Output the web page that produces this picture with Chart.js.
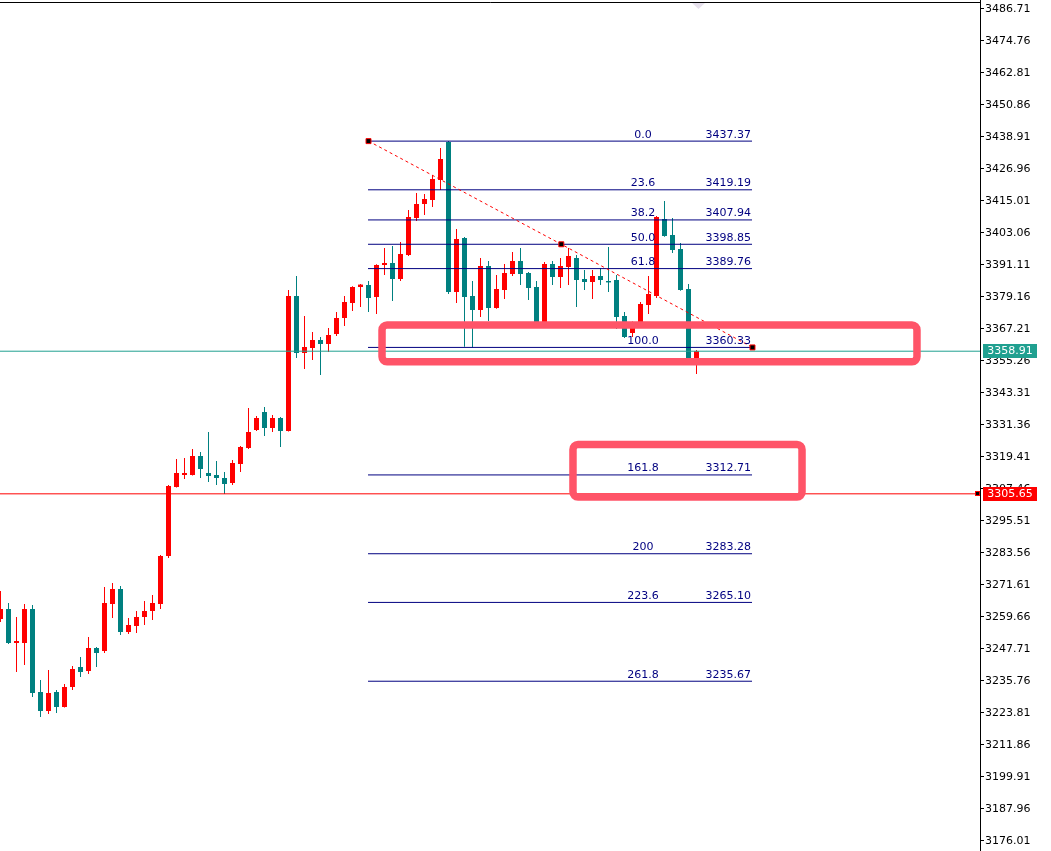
<!DOCTYPE html>
<html><head><meta charset="utf-8">
<script src="https://cdn.jsdelivr.net/npm/chart.js@4.4.1/dist/chart.umd.min.js"></script>
<style>html,body{margin:0;padding:0;background:#fff;overflow:hidden}</style>
</head><body>
<canvas id="c" width="1051" height="851"></canvas>
<script>
const candleOpen=[3258.91,3262.65,3249.95,3249.95,3262.65,3231.65,3224.55,3231.65,3226.05,3233.52,
3240.99,3239.49,3248.08,3246.96,3264.51,3270.11,3254.06,3256.30,3259.66,3261.90,
3264.51,3282.44,3308.20,3312.69,3312.69,3319.78,3313.43,3312.69,3311.57,3309.70,
3316.79,3322.77,3329.49,3336.21,3330.24,3333.97,3329.12,3379.53,3358.25,3360.11,
3363.10,3361.61,3365.34,3371.32,3376.92,3382.89,3383.64,3379.16,3391.11,3391.86,
3385.88,3394.84,3408.66,3413.89,3415.38,3422.85,3437.00,3381.03,3401.19,3379.53,
3374.30,3390.73,3375.05,3381.77,3387.75,3392.60,3388.12,3382.89,3369.82,3391.48,
3386.63,3390.36,3393.72,3385.88,3384.76,3387.00,3385.13,3385.51,3372.06,3365.71,
3369.07,3376.17,3379.53,3408.29,3402.31,3397.08,3382.15,3356.01];
const candleHigh=[3269.37,3264.89,3259.66,3264.51,3264.14,3236.13,3239.87,3232.40,3234.64,3241.36,
3244.72,3252.19,3248.45,3270.86,3272.35,3271.23,3259.28,3261.90,3265.63,3267.87,
3282.81,3308.95,3318.66,3319.03,3322.40,3321.27,3328.74,3317.91,3313.81,3318.29,
3323.52,3337.71,3334.72,3338.08,3335.09,3334.35,3381.77,3387.00,3372.06,3366.09,
3364.22,3367.58,3373.56,3379.53,3383.20,3384.01,3385.13,3391.40,3397.46,3398.20,
3399.70,3411.65,3418.00,3417.62,3424.72,3434.80,3437.37,3404.55,3401.56,3385.13,
3393.72,3392.60,3387.37,3391.48,3395.96,3397.46,3388.49,3385.13,3392.23,3392.60,
3393.72,3397.46,3394.84,3389.24,3389.24,3389.99,3397.83,3387.37,3373.56,3370.00,
3377.29,3387.00,3409.41,3415.01,3408.66,3399.32,3384.01,3359.37];
const candleLow=[3257.79,3249.60,3239.12,3241.73,3229.78,3222.31,3223.43,3223.81,3225.90,3232.40,
3237.25,3238.37,3240.99,3246.21,3259.28,3252.94,3253.31,3253.68,3256.67,3258.54,
3262.65,3281.69,3308.00,3311.19,3312.50,3311.57,3310.07,3308.95,3305.59,3308.95,
3313.81,3322.40,3329.12,3327.25,3328.74,3323.14,3328.90,3356.38,3352.27,3355.63,
3350.03,3358.62,3364.59,3368.33,3373.93,3375.42,3373.56,3372.81,3387.37,3377.66,
3385.13,3394.47,3407.54,3409.78,3412.77,3419.12,3380.28,3376.92,3360.60,3360.33,
3371.69,3370.20,3374.80,3378.41,3387.00,3383.64,3378.04,3369.20,3369.60,3383.64,
3382.50,3383.64,3375.42,3381.77,3378.41,3383.64,3381.03,3367.21,3363.85,3364.22,
3368.80,3372.81,3378.78,3401.70,3395.59,3381.50,3355.80,3350.40];
const candleClose=[3262.65,3249.95,3250.69,3262.65,3231.28,3224.55,3231.28,3226.05,3233.52,3240.24,
3239.12,3248.08,3246.21,3264.89,3270.11,3254.06,3256.67,3259.66,3261.90,3264.89,
3282.44,3308.58,3313.43,3313.43,3319.78,3314.93,3312.31,3311.57,3309.32,3317.17,
3323.14,3328.74,3333.97,3330.24,3333.97,3329.12,3379.53,3358.25,3360.49,3363.10,
3361.61,3364.97,3371.32,3377.29,3382.89,3383.80,3378.78,3391.11,3391.86,3385.88,
3395.22,3409.03,3413.89,3415.76,3423.22,3430.69,3381.03,3400.82,3379.16,3374.30,
3390.73,3375.05,3382.15,3388.12,3392.60,3387.75,3382.52,3369.45,3391.48,3386.63,
3390.73,3394.47,3385.51,3384.76,3387.00,3385.51,3384.60,3371.69,3364.22,3369.82,
3376.54,3380.28,3409.03,3401.94,3396.71,3381.77,3356.01,3358.91];

const yTickStart=3176.01, yTickStep=11.95, yTickCount=27;
const yTicks=Array.from({length:yTickCount},(_, k)=>yTickStart+k*yTickStep);

const fibLevels=['0.0','23.6','38.2','50.0','61.8','100.0','161.8','200','223.6','261.8'];
const fibPrices=[3437.37,3419.19,3407.94,3398.85,3389.76,3360.33,3312.71,3283.28,3265.10,3235.67];
const fibStart=45.94, fibEnd=93.94;

const trendX=[46.0,70.1,94.0];
const trendY=[3437.37,3398.85,3360.33];

const bidPrice=3358.91;
const alertPrice=3305.65;

const boxX1=[47.69,71.56], boxX2=[114.56,100.19];
const boxY1=[3368.70,3324.07], boxY2=[3354.96,3304.47];

const UP='#ff0000', DOWN='#008080', NAVY='#000080', PINK='rgb(255,84,104)', TEAL='#20a090';
const FONT='11px "DejaVu Sans"';
const colorOf=i=>candleClose[i]>=candleOpen[i]?UP:DOWN;

const datasets=[];
datasets.push({type:'bar',label:'wick',data:candleHigh.map((h,i)=>({x:i,y:[candleLow[i],h]})),
  backgroundColor:candleHigh.map((_,i)=>colorOf(i)),barThickness:1,grouped:false,borderWidth:0,inflateAmount:0,order:20});
datasets.push({type:'bar',label:'body',data:candleOpen.map((o,i)=>({x:i,y:[o,candleClose[i]]})),
  backgroundColor:candleOpen.map((_,i)=>colorOf(i)),barThickness:5,minBarLength:1,grouped:false,borderWidth:0,inflateAmount:0,order:19});
fibPrices.forEach((p)=>{
  datasets.push({type:'line',data:[{x:fibStart,y:p},{x:fibEnd,y:p}],borderColor:NAVY,borderWidth:1,pointRadius:0,order:5});
});
datasets.push({type:'line',data:[{x:-1,y:bidPrice},{x:130,y:bidPrice}],borderColor:TEAL,borderWidth:1,pointRadius:0,order:4});
datasets.push({type:'line',data:[{x:-1,y:alertPrice},{x:130,y:alertPrice}],borderColor:UP,borderWidth:1,pointRadius:0,order:4});
datasets.push({type:'line',data:trendX.map((x,i)=>({x,y:trendY[i]})),borderColor:UP,borderWidth:1,borderDash:[3,3],
  pointStyle:'rect',pointRadius:3.5,pointBackgroundColor:'#000',pointBorderColor:UP,pointBorderWidth:1,order:3});

const overlay={
  id:'overlay',
  afterDatasetsDraw(chart){
    const ctx=chart.ctx, xs=chart.scales.x, ys=chart.scales.y;
    ctx.save();
    ctx.font=FONT; ctx.fillStyle=NAVY; ctx.textBaseline='alphabetic';
    const xe=xs.getPixelForValue(fibEnd);
    fibPrices.forEach((p,i)=>{
      const y=ys.getPixelForValue(p)-3.5;
      ctx.textAlign='center'; ctx.fillText(fibLevels[i],xe-109,y);
      ctx.textAlign='right'; ctx.fillText(p.toFixed(2),xe-1,y);
    });
    ctx.strokeStyle=PINK; ctx.lineWidth=7.5;
    for(let b=0;b<boxX1.length;b++){
      const x1=xs.getPixelForValue(boxX1[b]), x2=xs.getPixelForValue(boxX2[b]);
      const y1=ys.getPixelForValue(boxY1[b]), y2=ys.getPixelForValue(boxY2[b]);
      ctx.beginPath(); ctx.roundRect(x1,y1,x2-x1,y2-y1,5); ctx.stroke();
    }
    ctx.restore();
  },
  afterDraw(chart){
    const ctx=chart.ctx, ys=chart.scales.y, ca=chart.chartArea;
    ctx.save();
    ctx.strokeStyle='#000'; ctx.lineWidth=1;
    ctx.beginPath(); ctx.moveTo(0,2.5); ctx.lineTo(ca.right+0.5,2.5); ctx.stroke();
    ctx.fillStyle='#e6e0ec';
    ctx.beginPath(); ctx.moveTo(692,3); ctx.lineTo(705,3); ctx.lineTo(698.5,9); ctx.closePath(); ctx.fill();
    ctx.font=FONT; ctx.textAlign='center'; ctx.textBaseline='middle';
    const tag=(price,color)=>{
      const y=Math.round(ys.getPixelForValue(price));
      ctx.fillStyle=color; ctx.fillRect(ca.right+3,y-7,54,14);
      ctx.fillStyle='#fff'; ctx.fillText(price.toFixed(2),ca.right+30,y+0.5);
      return y;
    };
    tag(bidPrice,TEAL);
    const ya=tag(alertPrice,UP);
    ctx.fillStyle='#000'; ctx.fillRect(ca.right-4,ya-2,4,4);
    ctx.strokeStyle=UP; ctx.strokeRect(ca.right-4.5,ya-2.5,4,4);
    ctx.restore();
  }
};

new Chart(document.getElementById('c'),{
  data:{datasets},
  options:{
    responsive:false, animation:false,
    layout:{padding:0,autoPadding:false},
    plugins:{legend:{display:false},tooltip:{enabled:false}},
    scales:{
      x:{type:'linear',display:false,min:-0.0625,max:122.4375,offset:false},
      y:{type:'linear',position:'right',min:3172.27,max:3490.07,
        afterBuildTicks:s=>{s.ticks=yTicks.map(v=>({value:v}));},
        afterFit:s=>{s.width=71;s.paddingTop=0;s.paddingBottom=0;},
        ticks:{font:{family:'DejaVu Sans',size:11},color:'#000',padding:1,autoSkip:false,callback:v=>Number(v).toFixed(2)},
        grid:{drawOnChartArea:false,tickLength:4,color:'#000'},
        border:{color:'#000'}}
    }
  },
  plugins:[overlay]
});
</script>
</body></html>
